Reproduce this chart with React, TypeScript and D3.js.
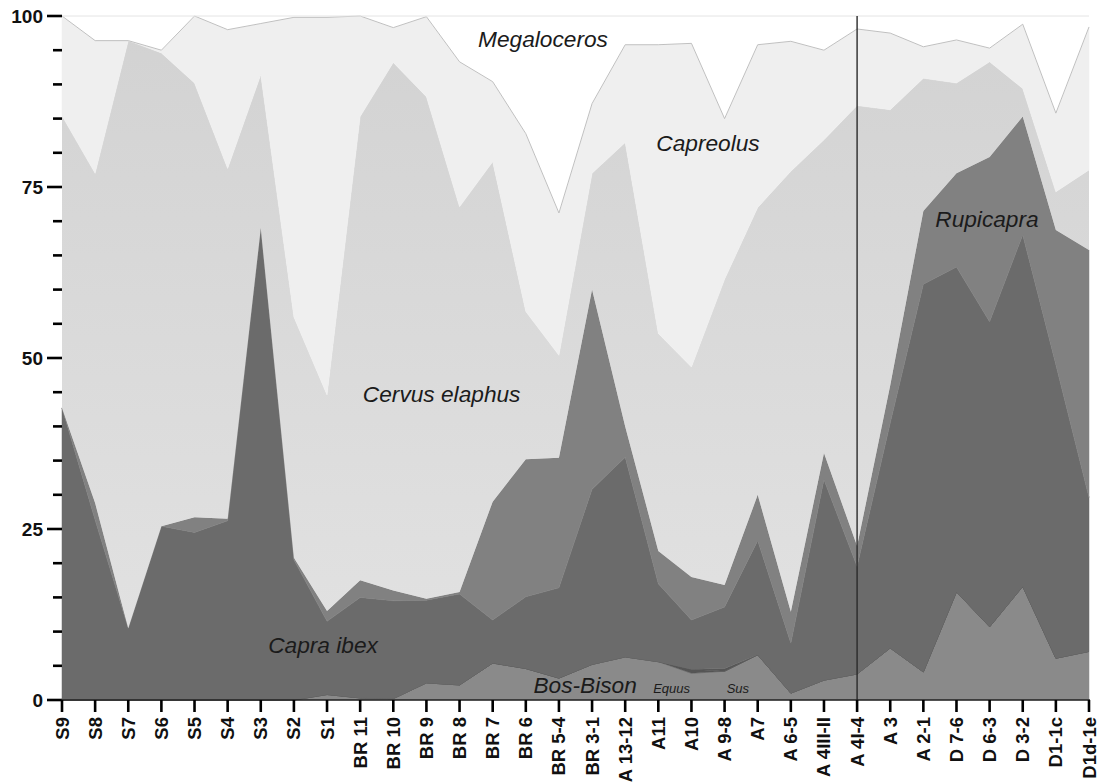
import React from 'react';
import * as d3 from 'd3';

// Stratigraphic levels, oldest on the left
const levels = [
  'S9', 'S8', 'S7', 'S6', 'S5', 'S4', 'S3', 'S2', 'S1',
  'BR 11', 'BR 10', 'BR 9', 'BR 8', 'BR 7', 'BR 6', 'BR 5-4', 'BR 3-1',
  'A 13-12', 'A11', 'A10', 'A 9-8', 'A7', 'A 6-5', 'A 4III-II', 'A 4I-4',
  'A 3', 'A 2-1', 'D 7-6', 'D 6-3', 'D 3-2', 'D1-1c', 'D1d-1e',
];

// Percentage of each taxon per level (stacked bottom to top)
const bosBison = [0, 0, 0, 0, 0, 0, 0, 0, 0.8, 0.3, 0.2, 2.5, 2.2, 5.4, 4.6, 3.2, 5.2, 6.3, 5.6, 3.9, 4.2, 6.6, 1, 2.9, 3.8, 7.6, 4.1, 15.8, 10.7, 16.6, 6.1, 7.1];
const equus = [0, 0, 0, 0, 0, 0, 0, 0, 0, 0, 0, 0, 0, 0, 0, 0, 0, 0, 0, 0.6, 0, 0, 0, 0, 0, 0, 0, 0, 0, 0, 0, 0];
const sus = [0, 0, 0, 0, 0, 0, 0, 0, 0, 0, 0, 0, 0, 0, 0, 0, 0, 0, 0, 0, 0.4, 0, 0, 0, 0, 0, 0, 0, 0, 0, 0, 0];
const capraIbex = [42.7, 26.3, 10.5, 25.4, 24.5, 26.2, 69, 20.5, 10.7, 14.7, 14.3, 12.1, 13.3, 6.3, 10.5, 13.2, 25.6, 29.2, 11.4, 7.2, 9.0, 16.7, 7.3, 29.3, 15.7, 32.9, 56.7, 47.5, 44.6, 51.4, 42.9, 22.5];
const rupicapra = [0, 2.5, 0, 0, 2.2, 0.3, 0, 0.3, 1.5, 2.5, 1.5, 0.2, 0.3, 17.3, 20.1, 19.0, 29.2, 4.5, 4.8, 6.3, 3.2, 6.7, 4.6, 3.9, 3.0, 5.5, 10.7, 13.7, 24.1, 17.3, 19.7, 36.2];
const cervusElaphus = [42.7, 48.2, 85.9, 69.2, 63.5, 51.2, 22.4, 35.2, 31.6, 67.8, 77.2, 73.4, 56.3, 49.7, 21.6, 15.0, 17.0, 41.5, 31.8, 30.7, 44.7, 42.0, 64.4, 45.8, 64.4, 40.3, 19.4, 13.2, 13.9, 4.1, 5.6, 11.7];
const capreolus = [14.6, 19.4, 0, 0.4, 9.8, 20.3, 7.5, 43.8, 55.2, 14.7, 5.1, 11.7, 21.2, 11.7, 26.0, 20.8, 10.2, 14.3, 42.2, 47.3, 23.5, 23.8, 19.0, 13.1, 11.2, 11.2, 4.6, 6.3, 2.0, 9.4, 11.5, 20.9];
const megaloceros = [0, 3.6, 3.6, 5, 0, 2, 1.1, 0.2, 0.2, 0, 1.7, 0.1, 6.7, 9.6, 17.2, 28.8, 12.8, 4.2, 4.2, 4, 15, 4.2, 3.7, 5, 1.9, 2.5, 4.5, 3.5, 4.7, 1.2, 14.2, 1.6];

const yTicks = [0, 25, 50, 75, 100];
const dividerLevel = 'A 4I-4';

const taxa = [
  { key: 'Bos-Bison', values: bosBison, fill: '#8a8a8a' },
  { key: 'Equus', values: equus, fill: '#555555' },
  { key: 'Sus', values: sus, fill: '#555555' },
  { key: 'Capra ibex', values: capraIbex, fill: '#6b6b6b' },
  { key: 'Rupicapra', values: rupicapra, fill: '#818181' },
  { key: 'Cervus elaphus', values: cervusElaphus, fill: 'url(#cervusFill)' },
  { key: 'Capreolus', values: capreolus, fill: '#efefef' },
  { key: 'Megaloceros', values: megaloceros, fill: '#ffffff' },
];

// Taxon names placed inside their bands: level position (fractional index) and percentage
const taxonLabels = [
  { text: 'Megaloceros', at: 14.52, v: 95.5, size: 22.7 },
  { text: 'Capreolus', at: 19.5, v: 80.2, size: 22.7 },
  { text: 'Rupicapra', at: 27.92, v: 69.2, size: 22.7 },
  { text: 'Cervus elaphus', at: 11.46, v: 43.6, size: 22.7 },
  { text: 'Capra ibex', at: 7.88, v: 6.9, size: 22.7 },
  { text: 'Bos-Bison', at: 15.79, v: 1.0, size: 22.7 },
  { text: 'Equus', at: 18.4, v: 1.0, size: 13 },
  { text: 'Sus', at: 20.4, v: 1.0, size: 13 },
];

export default function App() {
  const width = 1102;
  const height = 784;
  const x = d3.scalePoint<string>().domain(levels).range([62, 1089]);
  const y = d3.scaleLinear().domain([0, 100]).range([700, 16]);
  const step = x.step();
  const xAt = (i: number) => (x(levels[0]) as number) + i * step;

  const rows = levels.map((lv, i) => {
    const r: any = { level: lv };
    taxa.forEach((t) => (r[t.key] = t.values[i]));
    return r;
  });
  const series = d3.stack<any>().keys(taxa.map((t) => t.key))(rows);
  const area = d3
    .area<any>()
    .x((d) => x(d.data.level) as number)
    .y0((d) => y(d[0]))
    .y1((d) => y(d[1]))
    .curve(d3.curveLinear);
  const capreolusTop = d3
    .line<any>()
    .x((d) => x(d.data.level) as number)
    .y((d) => y(d[1]));

  const minorTicks = d3.range(0, 101, 5).filter((v) => !yTicks.includes(v));
  const font = "'Liberation Sans', Arial, Helvetica, sans-serif";

  return (
    <svg width={width} height={height} style={{ position: 'absolute', left: 0, top: 0, background: '#fff' }}>
      <defs>
        <linearGradient id="cervusFill" gradientUnits="userSpaceOnUse" x1="0" y1={y(100)} x2="0" y2={y(0)}>
          <stop offset="0" stopColor="#d2d2d2" />
          <stop offset="1" stopColor="#e3e3e3" />
        </linearGradient>
      </defs>

      {series.map((s, i) => (
        <path key={s.key} d={area(s) as string} fill={taxa[i].fill} stroke={taxa[i].fill.startsWith('url') ? 'none' : taxa[i].fill} strokeWidth={0.5} />
      ))}

      {/* outline of the roe deer band and the 100 % ceiling */}
      <path d={capreolusTop(series[6]) as string} fill="none" stroke="#b9b9b9" strokeWidth={0.9} />
      <line x1={x(levels[0])} x2={x(levels[levels.length - 1])} y1={y(100)} y2={y(100)} stroke="#e4e4e4" strokeWidth={1} />

      {/* divider between the A and D sequences */}
      <line x1={x(dividerLevel)} x2={x(dividerLevel)} y1={y(100)} y2={y(0)} stroke="#2a2a2a" strokeWidth={1.4} />

      {taxonLabels.map((l) => (
        <text key={l.text} x={xAt(l.at)} y={y(l.v)} textAnchor="middle" fontFamily={font} fontStyle="italic" fontSize={l.size} fill="#1b1b1b">
          {l.text}
        </text>
      ))}

      {/* y axis */}
      <g>
        {yTicks.map((v) => (
          <g key={v}>
            <line x1={47} x2={62} y1={y(v)} y2={y(v)} stroke="#000" strokeWidth={2.6} />
            <text x={43} y={y(v)} dy="0.36em" textAnchor="end" fontFamily={font} fontWeight="bold" fontSize={19} fill="#111">
              {v}
            </text>
          </g>
        ))}
        {minorTicks.map((v) => (
          <line key={v} x1={53} x2={62} y1={y(v)} y2={y(v)} stroke="#000" strokeWidth={2.6} />
        ))}
      </g>

      {/* x axis */}
      <g>
        <line x1={61} x2={x(levels[levels.length - 1]) as number + 1} y1={y(0)} y2={y(0)} stroke="#222" strokeWidth={1.6} />
        {levels.map((lv) => (
          <g key={lv} transform={`translate(${x(lv)},0)`}>
            <line x1={0} x2={0} y1={y(0)} y2={712} stroke="#000" strokeWidth={2.6} />
            <text transform={`translate(0,717) rotate(-90)`} textAnchor="end" dominantBaseline="central" fontFamily={font} fontWeight="bold" fontSize={18.5} fill="#111">
              {lv}
            </text>
          </g>
        ))}
      </g>
    </svg>
  );
}
